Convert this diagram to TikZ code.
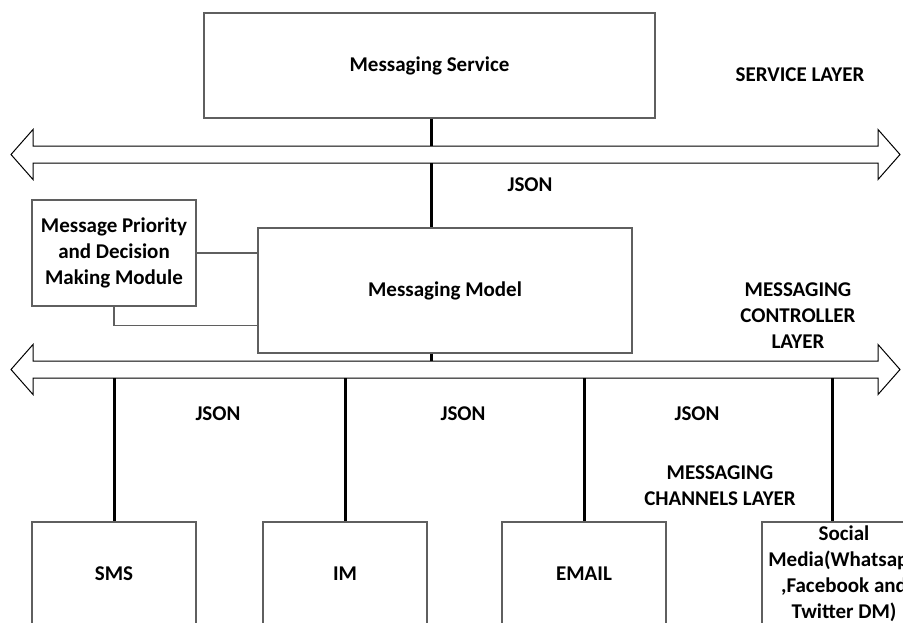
\documentclass[tikz,border=0pt]{standalone}
\usepackage{fontspec}
\setmainfont{Carlito}
\usetikzlibrary{positioning,calc}
\definecolor{boxgray}{RGB}{95,95,95}

% double headed bus arrow: #1 name, #2 centre line
\newcommand{\busarrow}[2]{%
    \draw[bus] (11,#2) -- (33,#2-25) -- (33,#2-8.5) -- (878,#2-8.5) -- (878,#2-25)
        -- (900,#2) -- (878,#2+25) -- (878,#2+8.5) -- (33,#2+8.5) -- (33,#2+25) -- cycle;
    \coordinate (#1 top) at (0,#2-8.5);
    \coordinate (#1 bot) at (0,#2+8.5);}

\begin{document}
\begin{tikzpicture}
    [x=0.5pt,y=-0.5pt,
     every node/.style={font=\bfseries\fontsize{10.5}{13}\selectfont},
     box/.style={draw=boxgray,line width=0.6pt,align=center,inner sep=0pt},
     chanbox/.style={box,minimum width=82pt,minimum height=52pt},
     link/.style={line width=1.5pt},
     thin/.style={boxgray,line width=0.6pt},
     bus/.style={draw,fill=white,line width=0.5pt},
     layertext/.style={align=center}]

    \clip (0,0) rectangle (903,622);
    \useasboundingbox (0,0) rectangle (903,622);

    % service layer
    \node[box,minimum width=225.5pt,minimum height=52.5pt] (service) at (429.5,65.5) {Messaging Service};
    \node (svclayer) at (800,75) {SERVICE LAYER};
    \busarrow{upbus}{154.5}
    \coordinate (trunk) at (431,0);
    \draw[link] (trunk |- service.south) -- (trunk |- upbus top);
    \node (json0) at (530,185) {JSON};

    % controller layer
    \node[box,minimum width=82pt,minimum height=53pt] (priority) at (114,253) {Message Priority\\and Decision\\Making Module};
    \node[box,minimum width=187pt,minimum height=62.5pt] (model) at (445,290.5) {Messaging Model};
    \draw[link] (trunk |- upbus bot) -- (trunk |- model.north);
    \draw[thin] (priority.east) -- (priority.east -| model.west);
    \draw[thin] (priority.south) |- ($(model.south west)!0.22!(model.north west)$);
    \node[layertext] (ctllayer) at (798,316) {MESSAGING\\CONTROLLER\\LAYER};

    \busarrow{lowbus}{369.5}
    \draw[link] (trunk |- model.south) -- (trunk |- lowbus top);

    % channels layer
    \node[chanbox] (sms) at (114,574) {SMS};
    \node[chanbox] (im) at (345,574) {IM};
    \node[chanbox] (email) at (584,574) {EMAIL};
    \node[chanbox] (social) at (844,574) {Social\\Media(Whatsapp\\,Facebook and\\Twitter DM)};
    \coordinate (tap) at (832,0);

    \draw[link] (sms.north |- lowbus bot) -- (sms.north);
    \draw[link] (im.north |- lowbus bot) -- (im.north);
    \draw[link] (email.north |- lowbus bot) -- (email.north);
    \draw[link] (tap |- lowbus bot) -- (tap |- social.north);

    \node (json1) at (218,414) {JSON};
    \node (json2) at (463,414) {JSON};
    \node (json3) at (697,414) {JSON};
    \node[layertext] (chanlayer) at (720,486) {MESSAGING\\CHANNELS LAYER};

\end{tikzpicture}
\end{document}
